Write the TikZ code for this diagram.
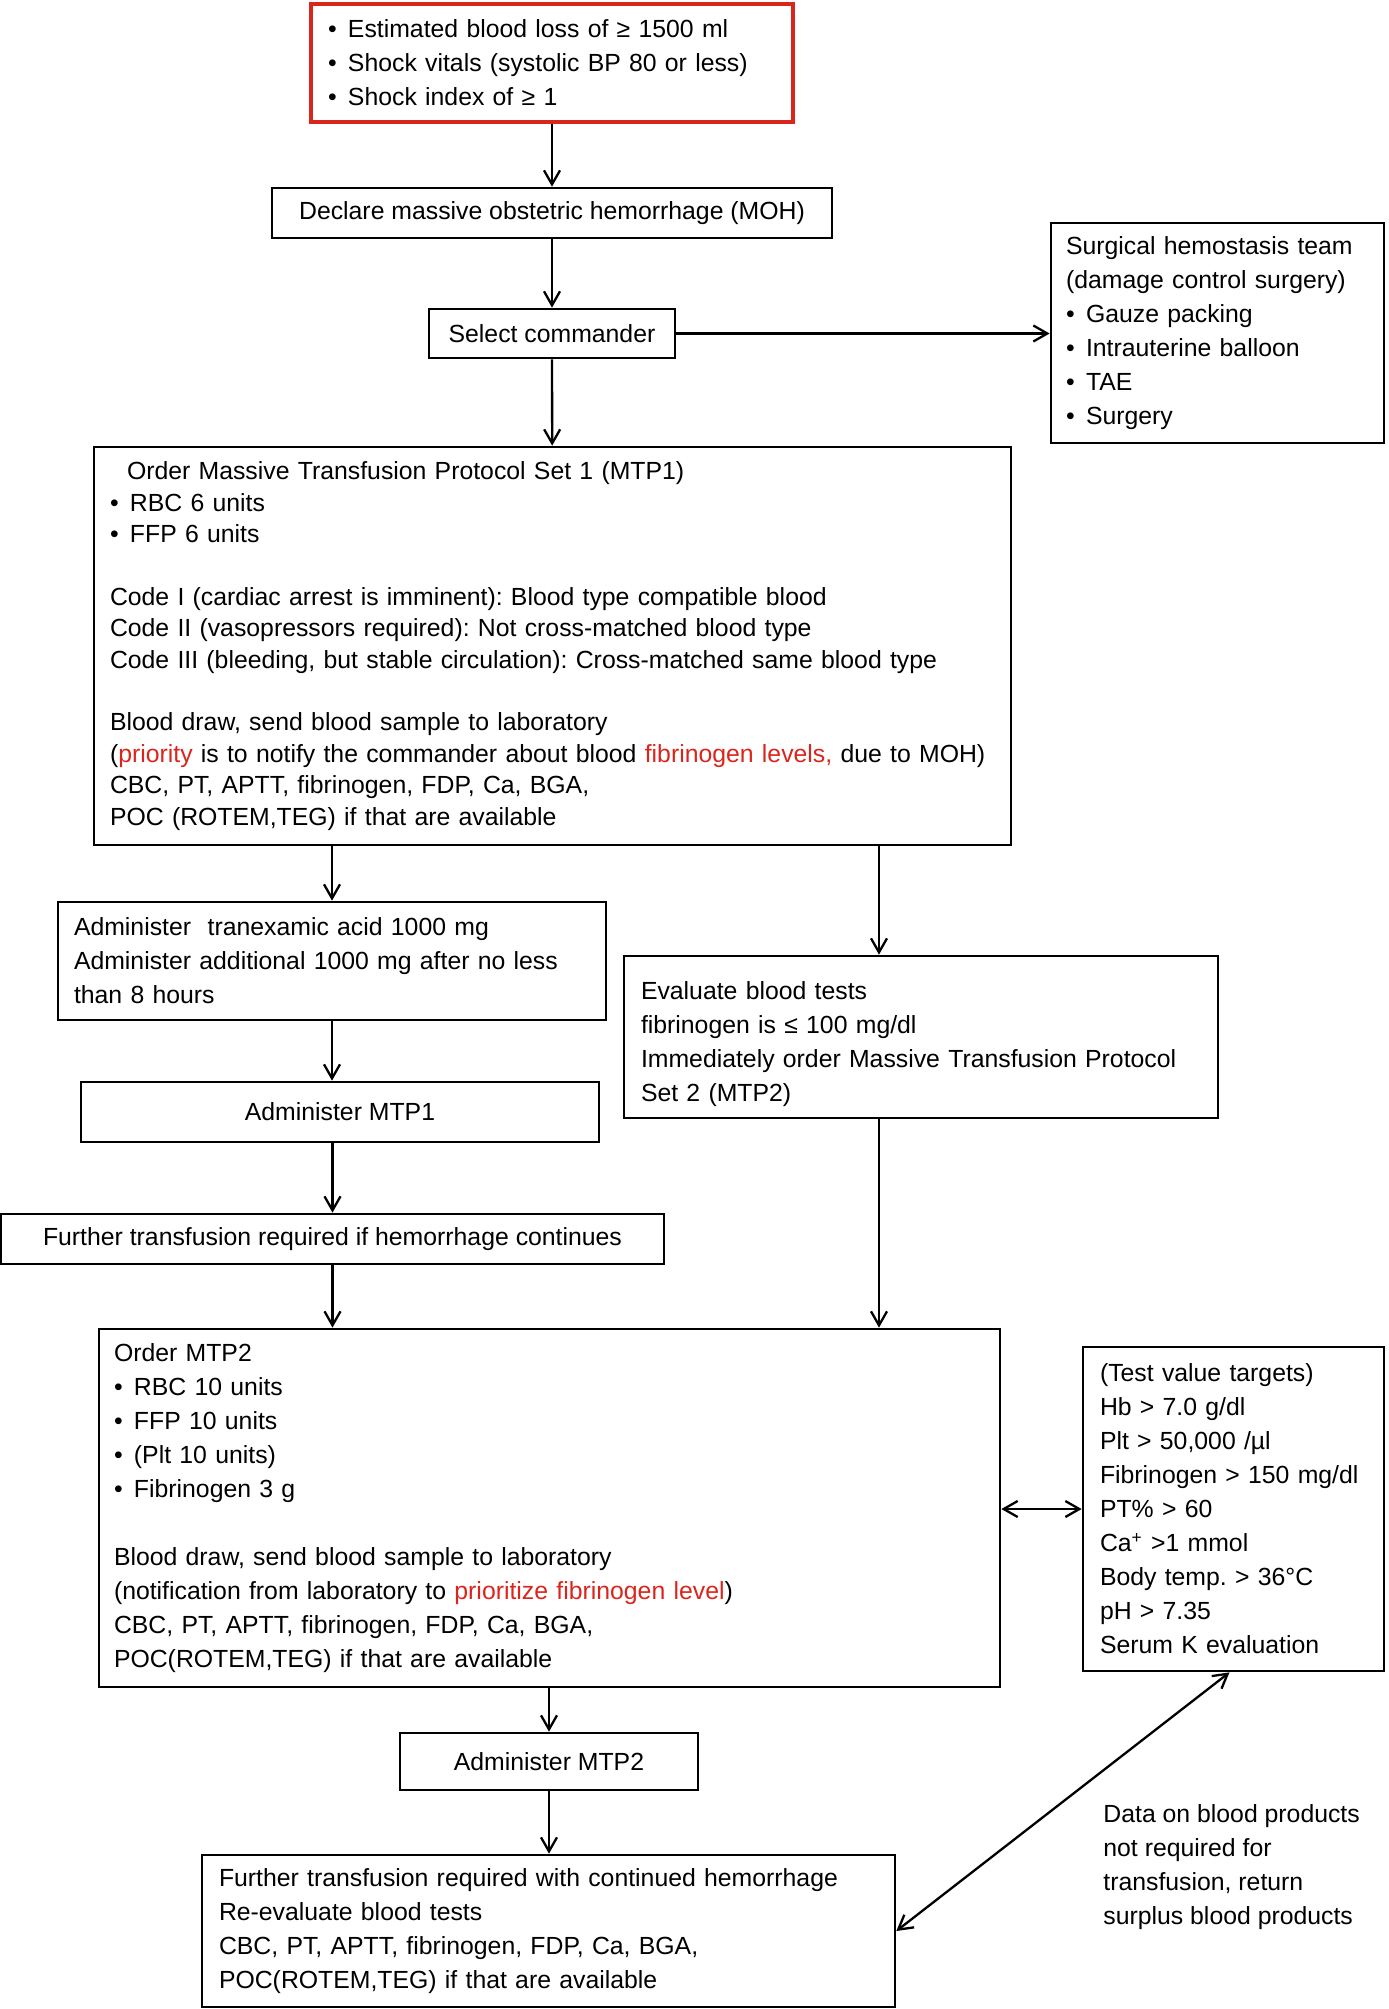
\documentclass[tikz,border=0pt]{standalone}
\usepackage{fontspec}
\setmainfont{Liberation Sans}
\usepackage{xcolor}
\usetikzlibrary{arrows.meta}
\definecolor{alertred}{RGB}{218,37,29}
\newcommand{\itm}{\makebox[10pt][l]{\textbullet}}
\frenchspacing

\begin{document}
\begin{tikzpicture}[x=0.5pt, y=-0.5pt, >={Straight Barb[length=7pt,width=8pt]},
  every node/.style={font=\fontsize{12.4}{17}\selectfont},
  box/.style={rectangle, draw, line width=1.35pt, inner sep=0pt},
  listbox/.style={box, align=left},
  link/.style={line width=1.15pt}]
  \useasboundingbox (0,0) rectangle (1388,2009);

  \node (criteria) [listbox, draw=alertred, line width=1.7pt, text width=224pt, inner xsep=8.5pt, minimum height=59pt] at (552,63)
    {\itm Estimated blood loss of ≥ 1500 ml\\ \itm Shock vitals (systolic BP 80 or less)\\ \itm Shock index of ≥ 1};
  \node (declare) [box, minimum width=280pt, minimum height=25pt] at (552,213) {Declare massive obstetric hemorrhage (MOH)};
  \node (commander) [box, minimum width=123pt, minimum height=24.5pt] at (552,333.5) {Select commander};
  \node (surgical) [listbox, text width=151.5pt, inner xsep=7.5pt, minimum height=110pt] at (1217.5,333)
    {Surgical hemostasis team\\ (damage control surgery)\\ \itm Gauze packing\\ \itm Intrauterine balloon\\ \itm TAE\\ \itm Surgery};
  \node (mtp1) [listbox, font=\fontsize{12.4}{15.7}\selectfont, text width=442.5pt, inner xsep=8pt, minimum height=199pt] at (552.5,646)
    {\hspace*{8.5pt}Order Massive Transfusion Protocol Set 1 (MTP1)\\ \itm RBC 6 units\\ \itm FFP 6 units\\[15.7pt]
     Code I (cardiac arrest is imminent): Blood type compatible blood\\
     Code II (vasopressors required): Not cross-matched blood type\\
     Code III (bleeding, but stable circulation): Cross-matched same blood type\\[15.7pt]
     Blood draw, send blood sample to laboratory\\
     (\textcolor{alertred}{priority} is to notify the commander about blood \textcolor{alertred}{fibrinogen levels,} due to MOH)\\
     CBC, PT, APTT, fibrinogen, FDP, Ca, BGA,\\
     POC (ROTEM,TEG) if that are available};
  \node (tranexamic) [listbox, text width=258pt, inner xsep=8pt, minimum height=59pt] at (332,961)
    {Administer~ tranexamic acid 1000 mg\\ Administer additional 1000 mg after no less\\ than 8 hours};
  \node (evaluate) [listbox, text width=280pt, inner xsep=8.5pt, minimum height=81pt] at (921,1037)
    {\rule{0pt}{16pt}Evaluate blood tests\\ fibrinogen is ≤ 100 mg/dl\\ Immediately order Massive Transfusion Protocol\\ Set 2 (MTP2)};
  \node (give1) [box, minimum width=259pt, minimum height=30pt] at (340,1112) {Administer MTP1};
  \node (further) [box, minimum width=331.5pt, minimum height=25pt] at (332.5,1239) {Further transfusion required if hemorrhage continues};
  \node (mtp2) [listbox, text width=435.5pt, inner xsep=7.5pt, minimum height=179pt] at (549.5,1508)
    {Order MTP2\\ \itm RBC 10 units\\ \itm FFP 10 units\\ \itm (Plt 10 units)\\ \itm Fibrinogen 3 g\\[17pt]
     Blood draw, send blood sample to laboratory\\
     (notification from laboratory to \textcolor{alertred}{prioritize fibrinogen level})\\
     CBC, PT, APTT, fibrinogen, FDP, Ca, BGA,\\
     POC(ROTEM,TEG) if that are available};
  \node (targets) [listbox, text width=133.5pt, inner xsep=8.5pt, minimum height=162pt] at (1233.5,1509)
    {(Test value targets)\\ Hb > 7.0 g/dl\\ Plt > 50,000 /µl\\ Fibrinogen > 150 mg/dl\\ PT\% > 60\\ Ca\textsuperscript{+} >1 mmol\\ Body temp. > 36°C\\ pH > 7.35\\ Serum K evaluation};
  \node (give2) [box, minimum width=149pt, minimum height=28.5pt] at (549,1761.5) {Administer MTP2};
  \node (reeval) [listbox, text width=329.5pt, inner xsep=8.5pt, minimum height=76pt] at (548.5,1931)
    {Further transfusion required with continued hemorrhage\\ Re-evaluate blood tests\\ CBC, PT, APTT, fibrinogen, FDP, Ca, BGA,\\ POC(ROTEM,TEG) if that are available};
  \node (surplus) [align=left, anchor=west, inner sep=0pt] at (1103,1867)
    {Data on blood products\\ not required for\\ transfusion, return\\ surplus blood products};

  \draw[link, ->] (criteria) -- (declare);
  \draw[link, ->] (declare) -- (commander);
  \draw[link, ->] (commander) -- (surgical.west |- commander);
  \draw[link, ->] (commander) -- (mtp1);
  \draw[link, ->] (tranexamic.north |- mtp1.south) -- (tranexamic.north);
  \draw[link, ->] ([xshift=-21pt]evaluate.north |- mtp1.south) -- ([xshift=-21pt]evaluate.north);
  \draw[link, ->] (tranexamic.south) -- (tranexamic.south |- give1.north);
  \draw[link, ->] (further.north |- give1.south) -- (further.north);
  \draw[link, ->] (further.south) -- (further.south |- mtp2.north);
  \draw[link, ->] ([xshift=-21pt]evaluate.south) -- ([xshift=-21pt]evaluate.south |- mtp2.north);
  \draw[link, <->] (mtp2.east |- targets) -- (targets.west);
  \draw[link, ->] (give2.north |- mtp2.south) -- (give2.north);
  \draw[link, ->] (give2.south) -- (give2.south |- reeval.north);
  \draw[link, <->] (reeval.east) -- ([xshift=-2pt]targets.south);
\end{tikzpicture}
\end{document}
